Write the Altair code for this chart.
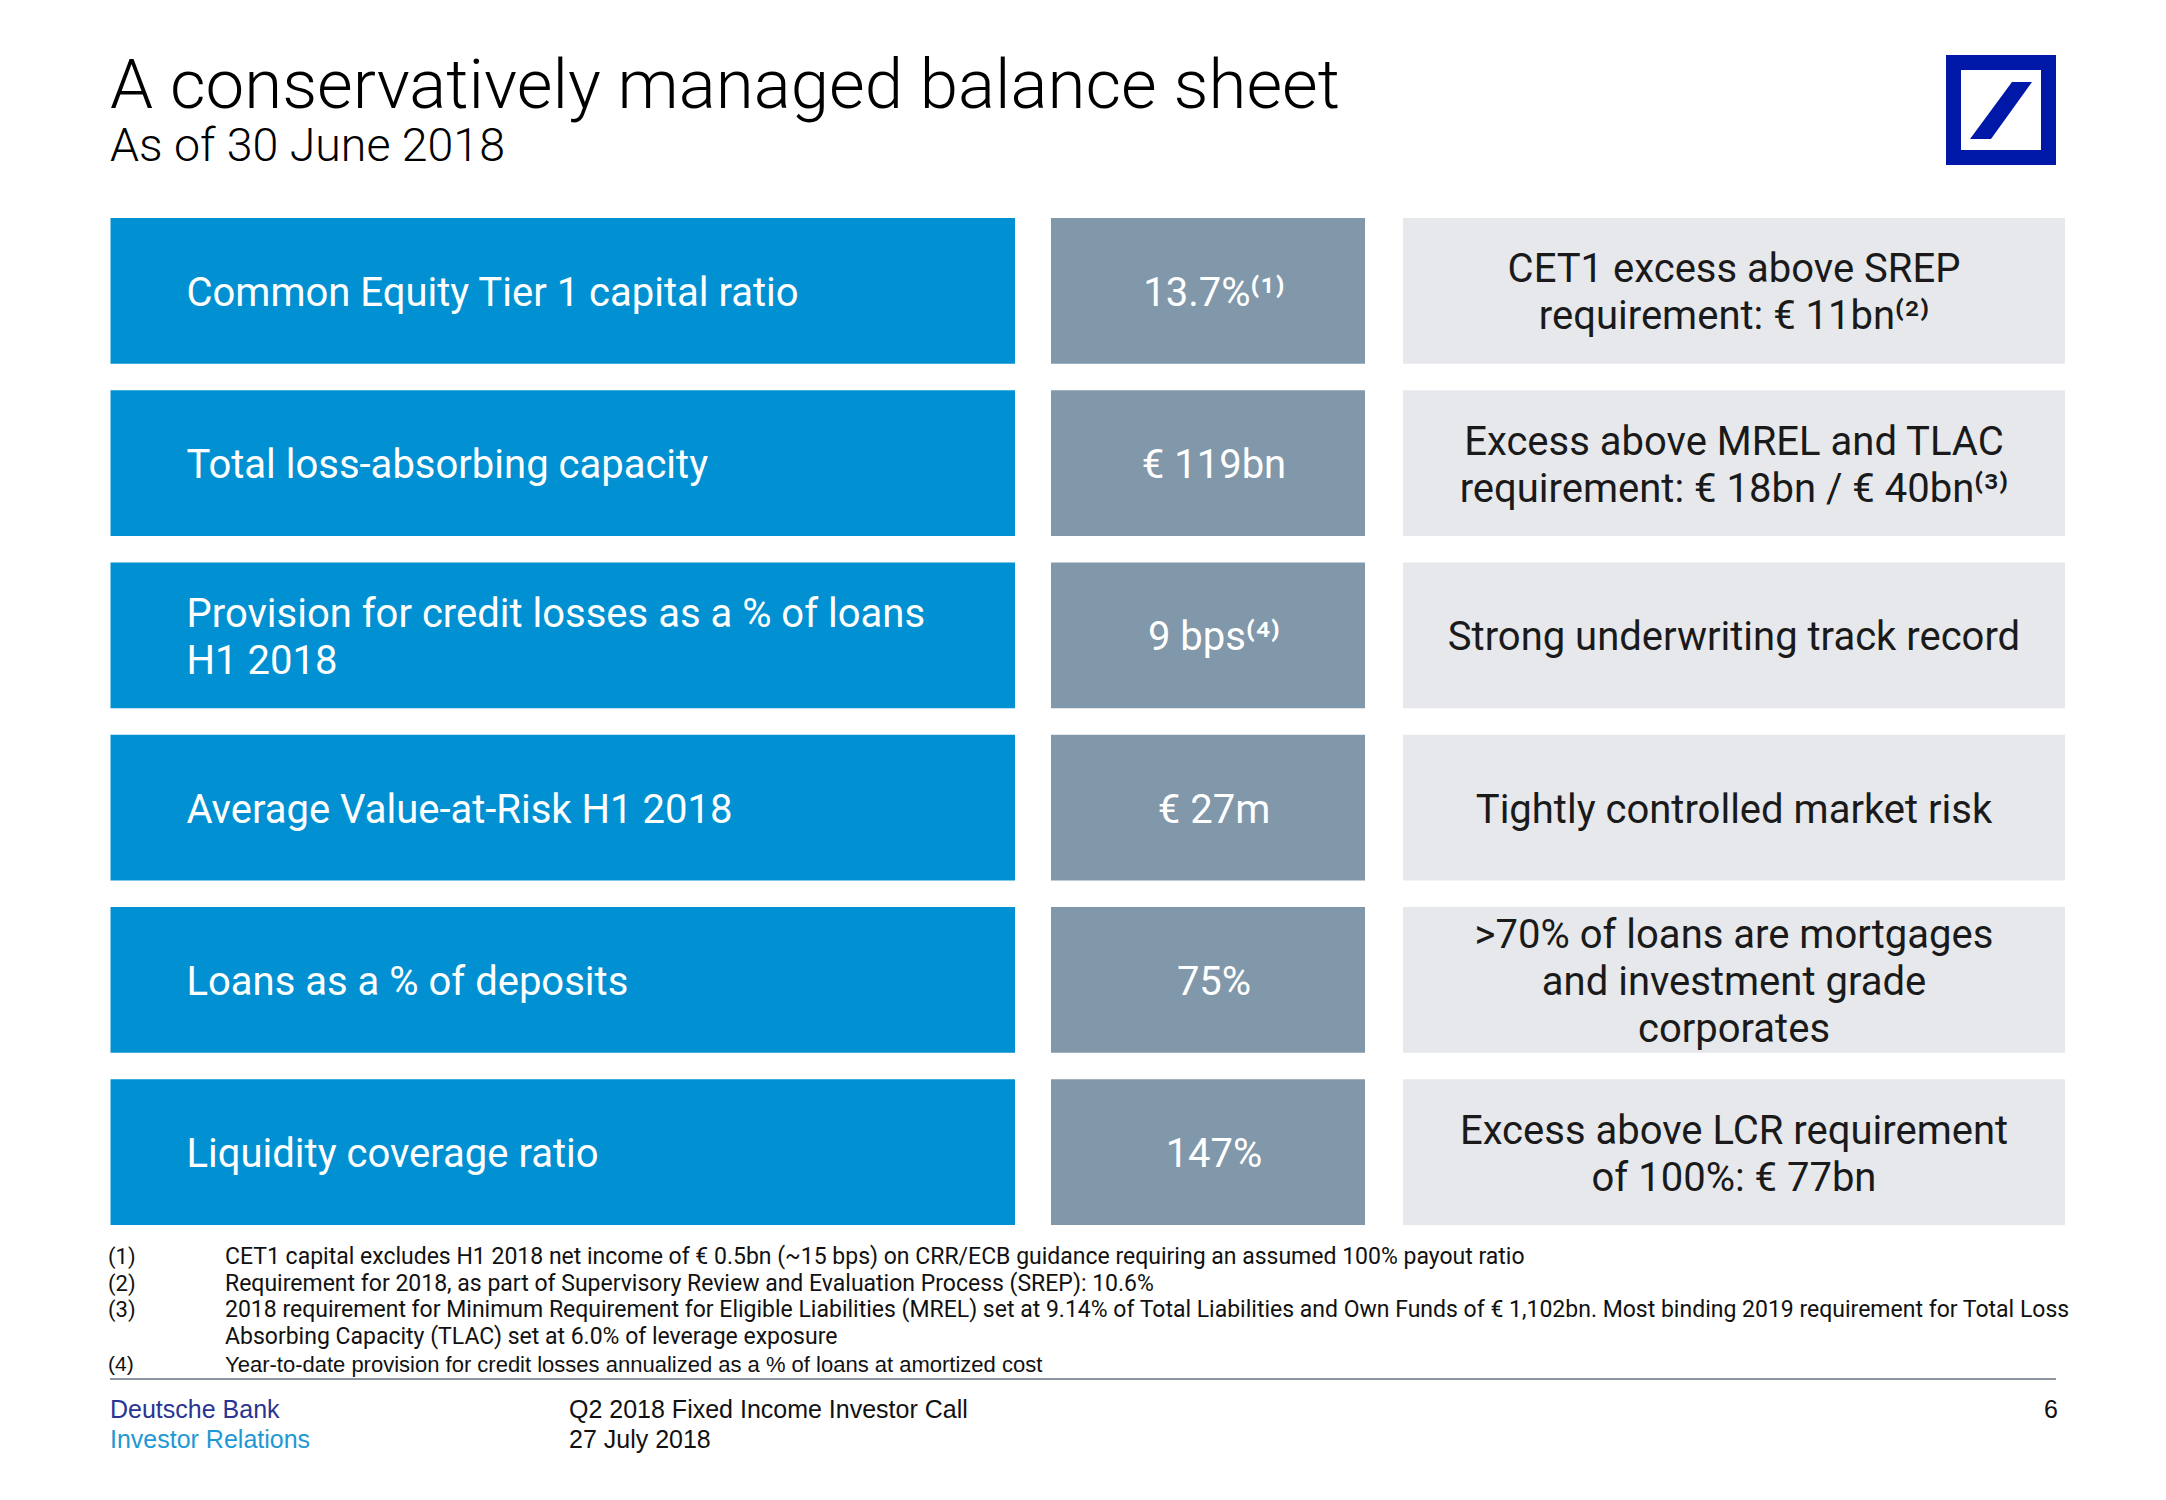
import altair as alt
import pandas as pd

# ---------------- data ----------------
title_text = "A conservatively managed balance sheet"
subtitle_text = "As of 30 June 2018"

metrics = [
    "Common Equity Tier 1 capital ratio",
    "Total loss-absorbing capacity",
    "Provision for credit losses as a % of loans\nH1 2018",
    "Average Value-at-Risk H1 2018",
    "Loans as a % of deposits",
    "Liquidity coverage ratio",
]
values = ["13.7%⁽¹⁾", "€ 119bn", "9 bps⁽⁴⁾", "€ 27m", "75%", "147%"]
comments = [
    "CET1 excess above SREP\nrequirement: € 11bn⁽²⁾",
    "Excess above MREL and TLAC\nrequirement: € 18bn / € 40bn⁽³⁾",
    "Strong underwriting track record",
    "Tightly controlled market risk",
    ">70% of loans are mortgages\nand investment grade\ncorporates",
    "Excess above LCR requirement\nof 100%: € 77bn",
]

footnote_numbers = ["(1)", "(2)", "(3)"]
footnote_texts = [
    "CET1 capital excludes H1 2018 net income of € 0.5bn (~15 bps) on CRR/ECB guidance requiring an assumed 100% payout ratio",
    "Requirement for 2018, as part of Supervisory Review and Evaluation Process (SREP): 10.6%",
    "2018 requirement for Minimum Requirement for Eligible Liabilities (MREL) set at 9.14% of Total Liabilities and Own Funds of € 1,102bn. Most binding 2019 requirement for Total Loss",
    "Absorbing Capacity (TLAC) set at 6.0% of leverage exposure",
]
footnote4_number = "(4)"
footnote4_text = "Year-to-date provision for credit losses annualized as a % of loans at amortized cost"

footer_left = ["Deutsche Bank", "Investor Relations"]
footer_mid = ["Q2 2018 Fixed Income Investor Call", "27 July 2018"]
page_number = "6"

# ---------------- styles ----------------
W, H = 2150, 1484
FONT = "Roboto"
FOOT_FONT = "Liberation Sans"
BLUE = "#0191D2"
SLATE = "#8197AA"
LIGHT = "#E6E8EC"
DBBLUE = "#0018A8"
LH = 47

rows = pd.DataFrame({"row": list(range(len(metrics))), "metric": metrics,
                     "value": values, "comment": comments})
one = pd.DataFrame({"k": [0]})

yenc = alt.Y("row:O", axis=None,
             scale=alt.Scale(type="band", range=[210, 1217], paddingInner=0.153, paddingOuter=0))

base = alt.Chart(rows)

blue = base.mark_rect(color=BLUE).encode(y=yenc, x=alt.value(102.5), x2=alt.value(1007))
slate = base.mark_rect(color=SLATE).encode(y=yenc, x=alt.value(1043), x2=alt.value(1357))
light = base.mark_rect(color=LIGHT).encode(y=yenc, x=alt.value(1395), x2=alt.value(2057))


def text_layers(field, x, align, color):
    layers = []
    for n in (1, 2, 3):
        layers.append(
            base.transform_calculate(nl=f"length(split(datum.{field}, '\\n'))")
            .transform_filter(f"datum.nl == {n}")
            .mark_text(align=align, baseline="middle", fontSize=40, font=FONT, color=color,
                       lineBreak="\n", lineHeight=LH, dy=3 - (n - 1) * LH / 2)
            .encode(y=yenc, x=alt.value(x), text=f"{field}:N")
        )
    return layers


metric_txt = text_layers("metric", 178.5, "left", "white")
value_txt = text_layers("value", 1206, "center", "white")
comment_txt = text_layers("comment", 1726, "center", "#1a1a1a")

fixed = alt.Chart(one)

title = fixed.mark_text(text=title_text, align="left", baseline="alphabetic", fontSize=69,
                        font=FONT, fontWeight=300, color="#000000").encode(
    x=alt.value(102), y=alt.value(100))
subtitle = fixed.mark_text(text=subtitle_text, align="left", baseline="alphabetic", fontSize=46.5,
                           font=FONT, fontWeight=300, color="#000000").encode(
    x=alt.value(102), y=alt.value(153))

logo_box = fixed.mark_rect(fill="white", stroke=DBBLUE, strokeWidth=15).encode(
    x=alt.value(1945.5), x2=alt.value(2040.5), y=alt.value(54.5), y2=alt.value(149.5))
slash_path = "M 0.355 -0.919 L 1 -0.919 L -0.323 0.919 L -1 0.919 Z"
logo_slash = fixed.mark_point(shape=slash_path, filled=True, size=3844, color=DBBLUE,
                              opacity=1, strokeWidth=0).encode(
    x=alt.value(1993), y=alt.value(102.5))

fn_nums = fixed.mark_text(text="\n".join(footnote_numbers), lineBreak="\n", lineHeight=26.5,
                          align="left", baseline="middle", fontSize=22, font=FONT,
                          color="#111111").encode(x=alt.value(100), y=alt.value(1249))
fn_txt = fixed.mark_text(text="\n".join(footnote_texts), lineBreak="\n", lineHeight=26.5,
                         align="left", baseline="middle", fontSize=23, font=FONT,
                         color="#111111").encode(x=alt.value(217), y=alt.value(1249))
fn4_num = fixed.mark_text(text=footnote4_number, align="left", baseline="middle", fontSize=21,
                          font=FOOT_FONT, color="#111111").encode(x=alt.value(100), y=alt.value(1357))
fn4_txt = fixed.mark_text(text=footnote4_text, align="left", baseline="middle", fontSize=22,
                          font=FOOT_FONT, color="#111111").encode(x=alt.value(217), y=alt.value(1357))

sep = fixed.mark_rule(color="#8C959E", strokeWidth=2).encode(
    x=alt.value(102), x2=alt.value(2048), y=alt.value(1371))

foot1 = fixed.mark_text(text=footer_left[0], align="left", baseline="middle", fontSize=25,
                        font=FOOT_FONT, color="#283593").encode(x=alt.value(102), y=alt.value(1401.5))
foot2 = fixed.mark_text(text=footer_left[1], align="left", baseline="middle", fontSize=25,
                        font=FOOT_FONT, color="#1E98D4").encode(x=alt.value(102), y=alt.value(1431.5))
foot3 = fixed.mark_text(text=footer_mid[0], align="left", baseline="middle", fontSize=25,
                        font=FOOT_FONT, color="#111111").encode(x=alt.value(561), y=alt.value(1401.5))
foot4 = fixed.mark_text(text=footer_mid[1], align="left", baseline="middle", fontSize=25,
                        font=FOOT_FONT, color="#111111").encode(x=alt.value(561), y=alt.value(1431.5))
pnum = fixed.mark_text(text=page_number, align="right", baseline="middle", fontSize=25,
                       font=FOOT_FONT, color="#111111").encode(x=alt.value(2050), y=alt.value(1401.5))

chart = alt.layer(
    blue, slate, light, *metric_txt, *value_txt, *comment_txt,
    title, subtitle, logo_box, logo_slash,
    fn_nums, fn_txt, fn4_num, fn4_txt, sep,
    foot1, foot2, foot3, foot4, pnum,
).properties(
    width=W, height=H, padding=0, autosize="none", background="white"
).configure_view(stroke=None)

chart.save("out.html", embed_options={"renderer": "svg", "actions": False})
